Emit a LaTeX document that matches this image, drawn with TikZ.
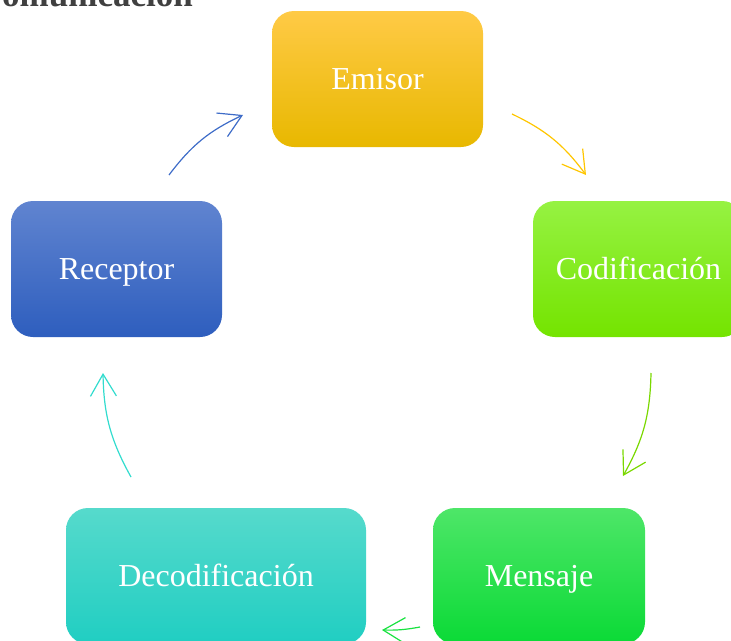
\documentclass[tikz,border=0pt]{standalone}
\usepackage{fontspec}
\setmainfont{Liberation Serif}
\usetikzlibrary{arrows.meta}

\definecolor{emA}{RGB}{255,202,70}\definecolor{emB}{RGB}{255,198,0}\definecolor{emC}{RGB}{232,184,0}
\definecolor{coA}{RGB}{150,242,66}\definecolor{coB}{RGB}{136,240,0}\definecolor{coC}{RGB}{116,228,0}
\definecolor{meA}{RGB}{78,230,104}\definecolor{meB}{RGB}{24,226,64}\definecolor{meC}{RGB}{10,218,54}
\definecolor{deA}{RGB}{86,218,204}\definecolor{deB}{RGB}{50,220,206}\definecolor{deC}{RGB}{32,206,194}
\definecolor{reA}{RGB}{96,132,208}\definecolor{reB}{RGB}{62,108,200}\definecolor{reC}{RGB}{46,94,190}

\begin{document}
\begin{tikzpicture}[x=1pt, y=1pt]
	\tikzstyle{every node} = [inner sep=0pt, text=white, font=\fontsize{32}{38}\selectfont]
	\tikzstyle{box} = [rectangle, rounded corners=22pt, minimum width=211pt, minimum height=136pt, text height=28pt, text depth=8pt]
	\tikzstyle{arr} = [line width=1.2pt, -{Straight Barb[length=22pt, width=26pt]}]
	\useasboundingbox (0,0) rectangle (731,-640); \clip (0,0) rectangle (731,-640);

	\node[text=black!75, font=\fontsize{35}{40}\selectfont\bfseries, anchor=base east] (title) at (193,-6) {Comunicación};

	\node[box, top color=emA, middle color=emB, bottom color=emC] (em) at (377.5,-79) {Emisor};
	\node[box, top color=coA, middle color=coB, bottom color=coC] (cod) at (638.5,-269) {Codificación};
	\node[box, minimum width=212pt, top color=meA, middle color=meB, bottom color=meC] (men) at (539,-576) {Mensaje};
	\node[box, minimum width=300pt, top color=deA, middle color=deB, bottom color=deC] (dec) at (216,-576) {Decodificación};
	\node[box, top color=reA, middle color=reB, bottom color=reC] (rec) at (116.5,-269) {Receptor};

	\coordinate (a1) at (169,-175); \coordinate (b1) at (243,-115);
	\coordinate (a2) at (512,-114); \coordinate (b2) at (586,-175);
	\coordinate (a3) at (651,-373); \coordinate (b3) at (623,-476);
	\coordinate (a4) at (420,-627); \coordinate (b4) at (382,-630);
	\coordinate (a5) at (131,-477); \coordinate (b5) at (103,-373);

	\draw[arr, color=reB] (a1) to[bend left=14] (b1); \draw[arr, color=emB] (a2) to[bend left=14] (b2); \draw[arr, color=coB!90!black] (a3) to[bend left=14] (b3); \draw[arr, color=meB] (a4) to[bend left=6] (b4); \draw[arr, color=deB] (a5) to[bend left=14] (b5);
\end{tikzpicture}
\end{document}
